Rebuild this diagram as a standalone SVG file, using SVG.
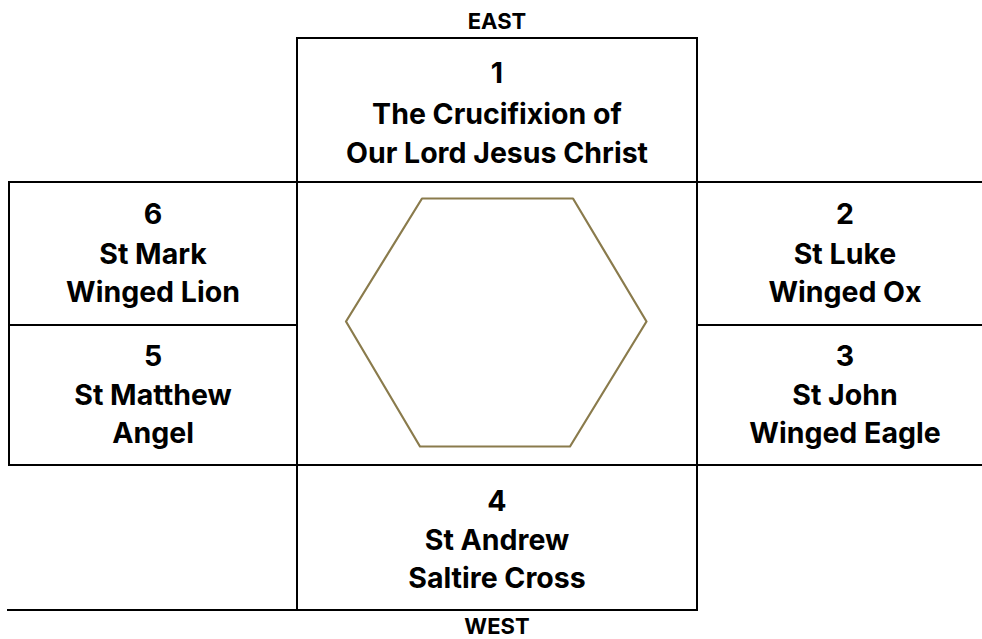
<svg xmlns="http://www.w3.org/2000/svg" width="982" height="639" viewBox="0 0 982 639">
<style>
.box{fill:#ffffff;stroke:#000000;stroke-width:2}
.ln{stroke:#000000;stroke-width:2;fill:none}
.t{font-family:Inter,"Liberation Sans",sans-serif;font-weight:700;font-size:28.5px;fill:#000000;text-anchor:middle}
.d{font-family:Inter,"Liberation Sans",sans-serif;font-weight:700;font-size:22px;fill:#000000;text-anchor:middle}
</style>
<rect width="982" height="639" fill="#ffffff"/>
<g id="connectors">
<line class="ln" x1="7" y1="610" x2="297" y2="610"/>
</g>
<g id="center">
<rect class="box" x="297" y="182" width="400" height="283"/>
<polygon points="422,198.5 573,198.5 646.5,321.5 570,446.5 420,446.5 346,321.5" fill="#ffffff" stroke="#8a7b4c" stroke-width="2.2" stroke-linejoin="round"/>
</g>
<g id="node1">
<rect class="box" x="297" y="38" width="400" height="144"/>
<text class="t" x="497" y="83">1</text>
<text class="t" x="497" y="124">The Crucifixion of</text>
<text class="t" x="497" y="163">Our Lord Jesus Christ</text>
</g>
<g id="node6">
<rect class="box" x="9" y="182" width="288" height="143"/>
<text class="t" x="153" y="224">6</text>
<text class="t" x="153" y="264">St Mark</text>
<text class="t" x="153" y="302">Winged Lion</text>
</g>
<g id="node5">
<rect class="box" x="9" y="325" width="288" height="140"/>
<text class="t" x="153" y="366">5</text>
<text class="t" x="153" y="405">St Matthew</text>
<text class="t" x="153" y="443">Angel</text>
</g>
<g id="node2">
<rect class="box" x="697" y="182" width="290" height="143"/>
<text class="t" x="845" y="224">2</text>
<text class="t" x="845" y="264">St Luke</text>
<text class="t" x="845" y="302">Winged Ox</text>
</g>
<g id="node3">
<rect class="box" x="697" y="325" width="290" height="140"/>
<text class="t" x="845" y="366">3</text>
<text class="t" x="845" y="405">St John</text>
<text class="t" x="845" y="443">Winged Eagle</text>
</g>
<g id="node4">
<rect class="box" x="297" y="465" width="400" height="145"/>
<text class="t" x="497" y="511">4</text>
<text class="t" x="497" y="550">St Andrew</text>
<text class="t" x="497" y="588">Saltire Cross</text>
</g>
<g id="labels">
<text class="d" x="497" y="29">EAST</text>
<text class="d" x="497" y="634">WEST</text>
</g>
</svg>
